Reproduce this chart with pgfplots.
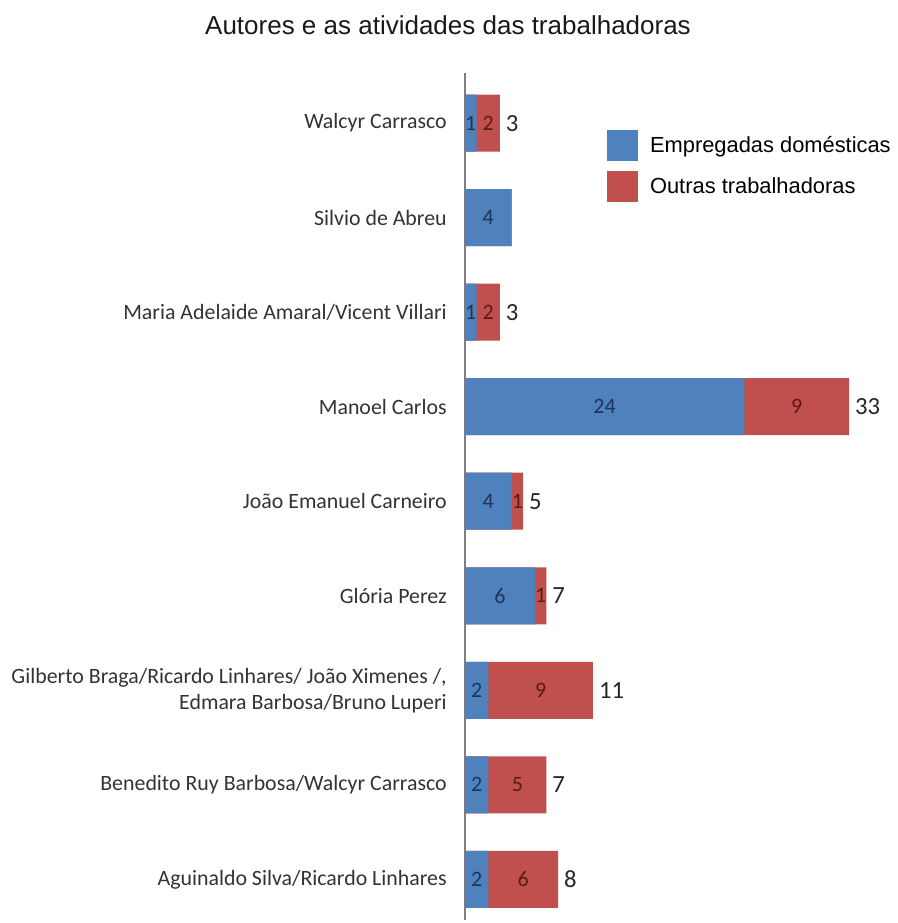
\documentclass[border=0pt]{standalone}
\usepackage{fontspec}
\setmainfont{Carlito}
\newfontfamily\arial{Liberation Sans}
\usepackage{pgfplots}
\usepackage{pgfplotstable}
\pgfplotsset{compat=1.18}
\definecolor{empblue}{HTML}{4F81BD}
\definecolor{outred}{HTML}{C0504D}
\definecolor{empdark}{HTML}{1F3458}
\definecolor{outdark}{HTML}{5E1A18}

% y: 0 = bottom category
\pgfplotstableread{
y emp out tot
0 2 6 8
1 2 5 7
2 2 9 11
3 6 1 7
4 4 1 5
5 24 9 33
6 1 2 3
7 4 0 4
8 1 2 3
}\autores

\begin{document}
\begin{tikzpicture}
\path[use as bounding box] (-348.75pt,-2.25pt) rectangle (324pt,690pt);
\begin{axis}[
    at={(0pt,0pt)}, anchor=south west,
    scale only axis,
    width=288pt, height=635.25pt,
    xmin=0, xmax=33,
    ymin=-0.43, ymax=8.53,
    axis x line=none,
    axis y line*=left,
    y axis line style={black!50, line width=0.8pt},
    ytick={0,...,8},
    yticklabels={
        Aguinaldo Silva/Ricardo Linhares,
        Benedito Ruy Barbosa/Walcyr Carrasco,
        {Gilberto Braga/Ricardo Linhares/ João Ximenes /,\\Edmara Barbosa/Bruno Luperi},
        Glória Perez,
        João Emanuel Carneiro,
        Manoel Carlos,
        Maria Adelaide Amaral/Vicent Villari,
        Silvio de Abreu,
        Walcyr Carrasco},
    major tick length=0pt,
    yticklabel style={font=\fontsize{16.4}{19.5}\selectfont, align=right,
        anchor=east, inner sep=0pt, xshift=-13.5pt, text=black!80},
    clip=false,
    /pgf/number format/assume math mode=true,
    legend style={at={(axis description cs:0.37,0.933)}, anchor=north west,
        draw=none, fill=none, inner sep=0pt, outer sep=0pt,
        row sep=7.9pt, column sep=9pt,
        font=\arial\fontsize{16.4}{19}\selectfont,
        nodes={inner sep=0pt}},
    legend cell align=left,
    legend image code/.code={\fill[#1, draw=none] (0pt,-11.6pt) rectangle (23.25pt,11.6pt);},
]
\addplot[xbar, bar width=42.75pt, bar shift=0pt, fill=outred, draw=none, forget plot]
    table[x=tot, y=y]{\autores};
\addplot[xbar, bar width=42.75pt, bar shift=0pt, fill=empblue, draw=none, forget plot]
    table[x=emp, y=y]{\autores};

% segment values
\addplot[draw=none, no markers, forget plot, nodes near coords,
    point meta=\thisrow{emp},
    every node near coord/.style={anchor=center, text=empdark,
        font=\fontsize{16.5}{19}\selectfont}]
    table[x expr=\thisrow{emp}/2, y=y]{\autores};
\addplot[draw=none, no markers, forget plot, nodes near coords,
    point meta=\thisrow{out},
    restrict expr to domain={\thisrow{out}}{0.5:100},
    every node near coord/.style={anchor=center, text=outdark,
        font=\fontsize{16.5}{19}\selectfont}]
    table[x expr=\thisrow{emp}+\thisrow{out}/2, y=y]{\autores};
% totals
\addplot[draw=none, no markers, forget plot, nodes near coords,
    point meta=\thisrow{tot},
    restrict expr to domain={\thisrow{out}}{0.5:100},
    every node near coord/.style={anchor=west, xshift=1pt, text=black!85,
        font=\fontsize{18.5}{22}\selectfont}]
    table[x=tot, y=y]{\autores};

\addlegendimage{fill=empblue}
\addlegendentry{Empregadas domésticas}
\addlegendimage{fill=outred}
\addlegendentry{Outras trabalhadoras}
\end{axis}
\node[font=\arial\fontsize{19.5}{22}\selectfont, text=black!90] at (-12.75pt,671.25pt)
    {Autores e as atividades das trabalhadoras};
\end{tikzpicture}
\end{document}
